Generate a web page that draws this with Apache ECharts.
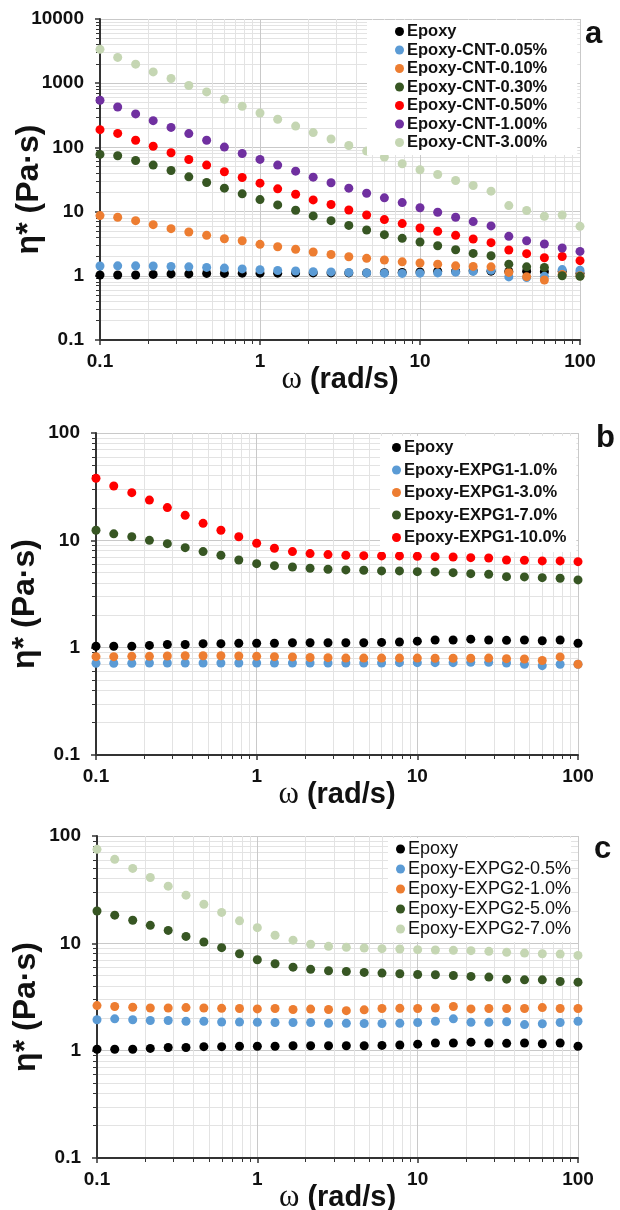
<!DOCTYPE html>
<html>
<head>
<meta charset="utf-8">
<script src="https://cdn.jsdelivr.net/npm/echarts@6/dist/echarts.min.js"></script>
<style>
html, body { margin: 0; padding: 0; background: #fff; }
#main { width: 620px; height: 1210px; }
</style>
</head>
<body>
<div id="main"></div>
<script>
// frequency sweep, rad/s
var omega = [0.1, 0.129, 0.167, 0.215, 0.278, 0.359, 0.464, 0.599, 0.774, 1, 1.29, 1.67, 2.15, 2.78, 3.59, 4.64, 5.99, 7.74, 10, 12.9, 16.7, 21.5, 27.8, 35.9, 46.4, 59.9, 77.4, 100];

// neat epoxy (same in all panels)
var epoxy = [1.03, 1.03, 1.03, 1.05, 1.07, 1.07, 1.09, 1.09, 1.10, 1.10, 1.10, 1.11, 1.11, 1.11, 1.11, 1.11, 1.12, 1.13, 1.15, 1.18, 1.18, 1.20, 1.18, 1.17, 1.18, 1.16, 1.18, 1.10];

// panel a - CNT
var cnt005 = [1.42, 1.43, 1.43, 1.42, 1.40, 1.38, 1.35, 1.32, 1.28, 1.24, 1.21, 1.19, 1.16, 1.15, 1.13, 1.11, 1.10, 1.09, 1.10, 1.11, 1.14, 1.17, 1.22, 0.96, 0.94, 0.98, 1.25, 1.22];
var cnt010 = [8.66, 8.15, 7.23, 6.26, 5.42, 4.81, 4.27, 3.78, 3.52, 3.09, 2.84, 2.58, 2.35, 2.15, 1.98, 1.87, 1.76, 1.65, 1.58, 1.52, 1.43, 1.40, 1.38, 1.13, 0.97, 0.86, 1.05, 1.0];
var cnt030 = [77.7, 74, 62.6, 53, 43.7, 34.8, 28.4, 23.2, 18.9, 15.4, 12.7, 10.5, 8.56, 7.23, 6.1, 5.17, 4.37, 3.83, 3.36, 2.94, 2.55, 2.23, 2.05, 1.52, 1.38, 1.35, 1.0, 0.98];
var cnt050 = [189, 165, 129, 104, 82.6, 64.9, 53, 41.7, 34, 27.7, 22.6, 18.6, 15.2, 12.9, 10.6, 8.87, 7.5, 6.5, 5.56, 4.93, 4.27, 3.74, 3.28, 2.52, 2.21, 1.91, 2.0, 1.72];
var cnt100 = [542, 426, 332, 261, 205, 164, 129, 101, 80.5, 65, 53, 42.7, 34.4, 28.1, 23.2, 19.3, 16.4, 13.8, 11.5, 9.77, 8.15, 6.98, 5.98, 4.12, 3.52, 3.13, 2.71, 2.40];
var cnt300 = [3365, 2520, 1980, 1500, 1185, 920, 732, 562, 437, 344, 274, 215, 170, 135, 107, 87.6, 70.6, 55.6, 44.8, 37.8, 30.5, 25.5, 20.8, 12.4, 10.4, 8.45, 8.87, 5.9];

// panel b - EXPG1
var g1_10 = [0.715, 0.715, 0.715, 0.72, 0.72, 0.72, 0.72, 0.72, 0.72, 0.72, 0.72, 0.72, 0.72, 0.72, 0.72, 0.72, 0.72, 0.725, 0.725, 0.725, 0.725, 0.73, 0.73, 0.72, 0.70, 0.68, 0.70, 0.70];
var g1_30 = [0.825, 0.825, 0.83, 0.83, 0.837, 0.84, 0.84, 0.84, 0.837, 0.83, 0.825, 0.82, 0.81, 0.807, 0.80, 0.80, 0.80, 0.80, 0.80, 0.796, 0.796, 0.796, 0.80, 0.79, 0.785, 0.76, 0.82, 0.70];
var g1_70 = [12.4, 11.5, 10.8, 10.0, 9.31, 8.55, 7.85, 7.26, 6.56, 6.06, 5.81, 5.65, 5.49, 5.38, 5.3, 5.26, 5.19, 5.19, 5.11, 5.08, 5.0, 4.89, 4.83, 4.59, 4.56, 4.49, 4.43, 4.28];
var g1_100 = [37.9, 32.1, 27.8, 23.7, 20.2, 17.1, 14.4, 12.4, 10.8, 9.4, 8.44, 7.85, 7.52, 7.36, 7.26, 7.2, 7.16, 7.16, 7.11, 7.05, 7.0, 6.9, 6.85, 6.56, 6.52, 6.43, 6.43, 6.33];

// panel c - EXPG2
var g2_05 = [1.94, 1.98, 1.94, 1.91, 1.91, 1.88, 1.88, 1.85, 1.85, 1.84, 1.83, 1.83, 1.83, 1.80, 1.80, 1.79, 1.79, 1.80, 1.83, 1.88, 1.98, 1.84, 1.84, 1.86, 1.75, 1.78, 1.83, 1.88];
var g2_10 = [2.63, 2.58, 2.54, 2.50, 2.50, 2.52, 2.50, 2.48, 2.47, 2.45, 2.47, 2.42, 2.44, 2.42, 2.36, 2.40, 2.47, 2.48, 2.47, 2.50, 2.58, 2.45, 2.47, 2.47, 2.47, 2.52, 2.47, 2.47];
var g2_50 = [20.0, 18.3, 16.4, 14.7, 13.2, 11.6, 10.3, 9.12, 8.0, 7.03, 6.46, 6.0, 5.72, 5.56, 5.47, 5.36, 5.28, 5.21, 5.13, 5.1, 5.02, 4.92, 4.85, 4.64, 4.57, 4.57, 4.41, 4.35];
var g2_70 = [75.1, 60.6, 49.9, 41.1, 34.1, 28.1, 23.1, 19.4, 16.2, 14.0, 11.9, 10.7, 9.8, 9.38, 9.18, 9.04, 8.92, 8.85, 8.73, 8.67, 8.6, 8.54, 8.42, 8.24, 8.11, 8.0, 7.94, 7.72];

var namesA = ['Epoxy', 'Epoxy-CNT-0.05%', 'Epoxy-CNT-0.10%', 'Epoxy-CNT-0.30%', 'Epoxy-CNT-0.50%', 'Epoxy-CNT-1.00%', 'Epoxy-CNT-3.00%'];
var namesB = ['Epoxy', 'Epoxy-EXPG1-1.0%', 'Epoxy-EXPG1-3.0%', 'Epoxy-EXPG1-7.0%', 'Epoxy-EXPG1-10.0%'];
var namesC = ['Epoxy', 'Epoxy-EXPG2-0.5%', 'Epoxy-EXPG2-1.0%', 'Epoxy-EXPG2-5.0%', 'Epoxy-EXPG2-7.0%'];

var colorsA = ['#000000', '#5b9bd5', '#ed7d31', '#375623', '#ff0000', '#7030a0', '#c5d6b3'];
var colorsB = ['#000000', '#5b9bd5', '#ed7d31', '#375623', '#ff0000'];
var colorsC = ['#000000', '#5b9bd5', '#ed7d31', '#375623', '#c5d6b3'];

var dataA = [epoxy, cnt005, cnt010, cnt030, cnt050, cnt100, cnt300];
var dataB = [epoxy, g1_10, g1_30, g1_70, g1_100];
var dataC = [epoxy, g2_05, g2_10, g2_50, g2_70];

var sans = 'Liberation Sans, Arial, sans-serif';
var axisColor = '#333';

function pairs(arr) {
    return omega.map(function(w, i) { return [w, arr[i]]; });
}

function xAxisFor(idx) {
    return {
        type: 'log', logBase: 10, gridIndex: idx, min: 0.1, max: 100,
        name: '{w|ω} (rad/s)', nameLocation: 'middle', nameGap: 24, nameMoveOverlap: false,
        nameTextStyle: {
            fontFamily: sans, fontWeight: 'bold', fontSize: 29, color: '#111',
            rich: { w: { fontFamily: 'Liberation Serif, Times New Roman, serif', fontWeight: 'normal', fontSize: 31, color: '#111' } }
        },
        axisLine: { onZero: false, lineStyle: { color: axisColor, width: 2 } },
        axisTick: { show: true, inside: false, length: 5, lineStyle: { color: axisColor, width: 1.5 } },
        minorTick: { show: true, splitNumber: 9, length: 4, lineStyle: { color: axisColor, width: 1 } },
        splitLine: { show: true, lineStyle: { color: '#c9c9c9', width: 1 } },
        minorSplitLine: { show: true, lineStyle: { color: '#e3e3e3', width: 1 } },
        axisLabel: {
            fontFamily: sans, fontWeight: 'bold', fontSize: 19, color: '#111', margin: 12,
            formatter: function(v) { return String(+v.toPrecision(6)); }
        }
    };
}

function yAxisFor(idx, max) {
    return {
        type: 'log', logBase: 10, gridIndex: idx, min: 0.1, max: max,
        name: 'η* (Pa·s)', nameLocation: 'middle', nameGap: 55, nameRotate: 90, nameMoveOverlap: false,
        nameTextStyle: { fontFamily: sans, fontWeight: 'bold', fontSize: 32, color: '#111', padding: [0, 20, 0, 0] },
        axisLine: { onZero: false, lineStyle: { color: axisColor, width: 2 } },
        axisTick: { show: true, inside: false, length: 5, lineStyle: { color: axisColor, width: 1.5 } },
        minorTick: { show: true, splitNumber: 9, length: 4, lineStyle: { color: axisColor, width: 1 } },
        splitLine: { show: true, lineStyle: { color: '#c9c9c9', width: 1 } },
        minorSplitLine: { show: true, lineStyle: { color: '#e3e3e3', width: 1 } },
        axisLabel: {
            fontFamily: sans, fontWeight: 'bold', fontSize: 19, color: '#111', margin: 16,
            formatter: function(v) { return String(+v.toPrecision(6)); }
        }
    };
}

function seriesFor(idx, names, colors, data) {
    return names.map(function(n, i) {
        return {
            type: 'scatter', name: n, xAxisIndex: idx, yAxisIndex: idx,
            symbol: 'circle', symbolSize: 9,
            itemStyle: { color: colors[i], opacity: 1 },
            data: pairs(data[i])
        };
    });
}

function legendFor(names, top, left, size, weight, gap, pad) {
    return {
        orient: 'vertical', left: left, top: top, data: names,
        icon: 'circle', itemWidth: 9, itemHeight: 9, itemGap: gap,
        backgroundColor: '#fff', padding: pad, selectedMode: false,
        textStyle: { fontFamily: sans, fontWeight: weight, fontSize: size, color: '#111', padding: [0, 0, 0, -2] }
    };
}

var myChart = echarts.init(document.getElementById('main'));

var option = {
    backgroundColor: '#fff',
    animation: false,
    title: [
        { text: 'a', left: 580, top: 14, textStyle: { fontFamily: sans, fontWeight: 'bold', fontSize: 31, color: '#111' } },
        { text: 'b', left: 591, top: 418, textStyle: { fontFamily: sans, fontWeight: 'bold', fontSize: 31, color: '#111' } },
        { text: 'c', left: 589, top: 829, textStyle: { fontFamily: sans, fontWeight: 'bold', fontSize: 31, color: '#111' } }
    ],
    grid: [
        { left: 100, top: 19, width: 480, height: 321, containLabel: false, outerBoundsMode: 'none' },
        { left: 96, top: 433, width: 482, height: 322, containLabel: false, outerBoundsMode: 'none' },
        { left: 97, top: 836, width: 481, height: 322, containLabel: false, outerBoundsMode: 'none' }
    ],
    xAxis: [xAxisFor(0), xAxisFor(1), xAxisFor(2)],
    yAxis: [yAxisFor(0, 10000), yAxisFor(1, 100), yAxisFor(2, 100)],
    legend: [
        legendFor(namesA, 20, 367, 16.5, 'bold', 1.5, [3, 30, 4, 28]),
        legendFor(namesB, 436, 380, 16.5, 'bold', 5.5, [3, 10, 6, 12]),
        legendFor(namesC, 838, 388, 18, 'normal', 2, [2, 0, 4, 8])
    ],
    series: [].concat(
        seriesFor(0, namesA, colorsA, dataA),
        seriesFor(1, namesB, colorsB, dataB),
        seriesFor(2, namesC, colorsC, dataC)
    )
};

myChart.setOption(option);
</script>
</body>
</html>
